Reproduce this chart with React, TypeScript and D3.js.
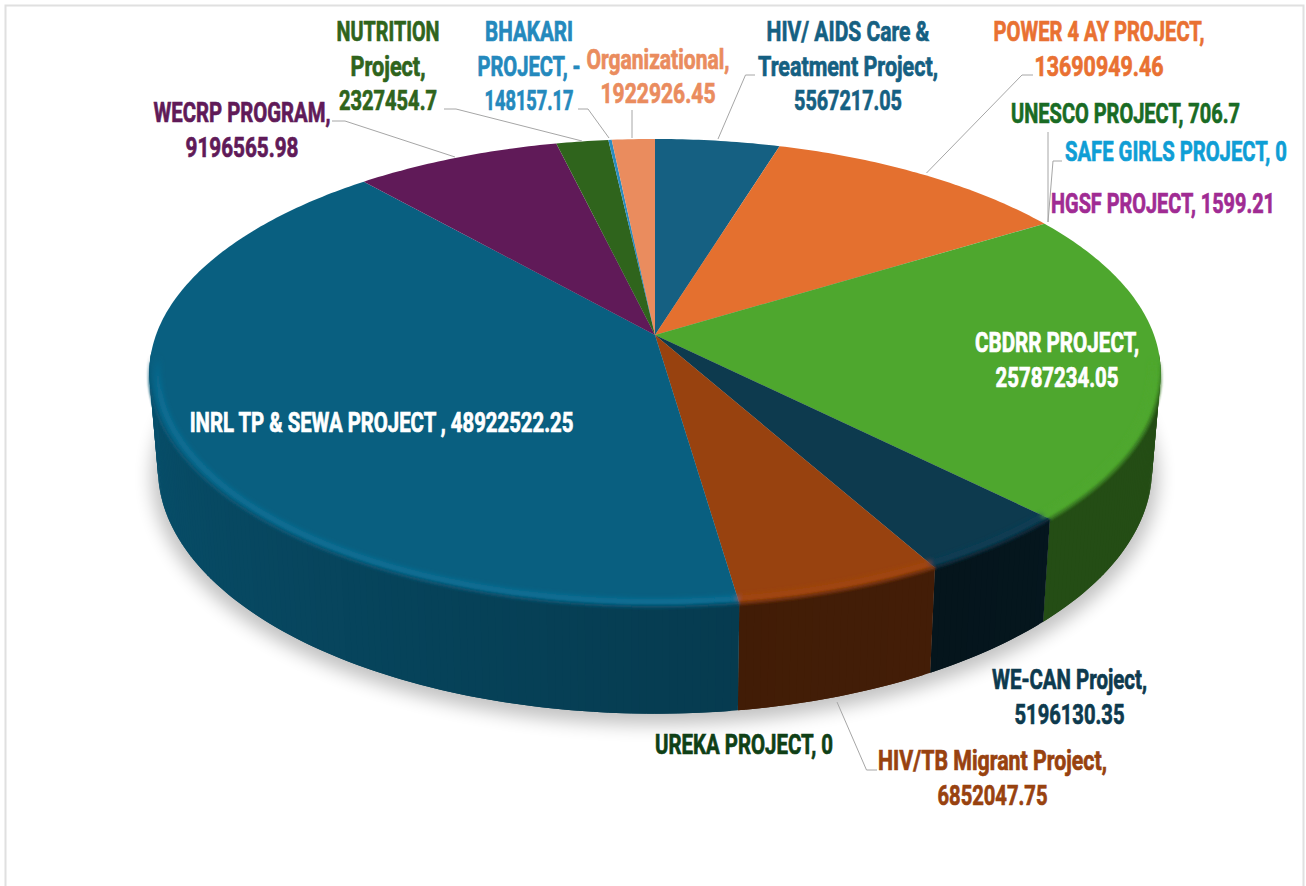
import React from "react";
import * as d3 from "d3";

const W = 1306, H = 886;

const categories = ["HIV/ AIDS Care & Treatment Project", "POWER 4 AY PROJECT", "UNESCO PROJECT", "SAFE GIRLS PROJECT", "HGSF PROJECT", "CBDRR PROJECT", "WE-CAN Project", "HIV/TB Migrant Project", "UREKA PROJECT", "INRL TP & SEWA PROJECT", "WECRP PROGRAM", "NUTRITION Project", "BHAKARI PROJECT", "Organizational"];
const values = [5567217.05, 13690949.46, 706.7, 0, 1599.21, 25787234.05, 5196130.35, 6852047.75, 0, 48922522.25, 9196565.98, 2327454.7, -148157.17, 1922926.45];
const colors = ["#156082", "#e4702f", "#196b24", "#0f9ed5", "#a02b93", "#4ea72e", "#0d3a4e", "#98420f", "#0f4016", "#095f80", "#601a58", "#2f641c", "#2b8cbf", "#ea8c5e"];
// wall shade relative to the top colour: [start of slice, end of slice]
const wallShades: Record<string, [number, number]> = {
  "CBDRR PROJECT": [0.46, 0.46],
  "WE-CAN Project": [0.38, 0.36],
  "HIV/TB Migrant Project": [0.44, 0.43],
  "INRL TP & SEWA PROJECT": [0.62, 0.95],
};
const rimBrighten: Record<string, number> = {
  "CBDRR PROJECT": 0.02,
  "WE-CAN Project": 0.2,
  "HIV/TB Migrant Project": 0.2,
  "INRL TP & SEWA PROJECT": 0.5,
};

const labels: { lines: string[]; color: string; cx: number; widths: number[]; top: number }[] = [
  { lines: ["NUTRITION", "Project,", "2327454.7"], color: "#2f641c", cx: 388, widths: [103, 75, 98], top: 41 },
  { lines: ["BHAKARI", "PROJECT, -", "148157.17"], color: "#2489bd", cx: 529, widths: [88, 103, 89], top: 41 },
  { lines: ["Organizational,", "1922926.45"], color: "#ea8c5e", cx: 658, widths: [143, 115], top: 68.5 },
  { lines: ["HIV/ AIDS Care &", "Treatment Project,", "5567217.05"], color: "#156082", cx: 848, widths: [163, 180, 108], top: 41 },
  { lines: ["POWER 4 AY PROJECT,", "13690949.46"], color: "#e97132", cx: 1099, widths: [211, 129], top: 41 },
  { lines: ["UNESCO PROJECT, 706.7"], color: "#196b24", cx: 1125.5, widths: [229], top: 123 },
  { lines: ["SAFE GIRLS PROJECT, 0"], color: "#0f9ed5", cx: 1176, widths: [222], top: 161 },
  { lines: ["HGSF PROJECT, 1599.21"], color: "#a02b93", cx: 1163, widths: [224], top: 213 },
  { lines: ["CBDRR PROJECT,", "25787234.05"], color: "#ffffff", cx: 1057, widths: [164, 123], top: 352 },
  { lines: ["INRL TP & SEWA PROJECT , 48922522.25"], color: "#ffffff", cx: 381.5, widths: [385], top: 432 },
  { lines: ["WE-CAN Project,", "5196130.35"], color: "#0d3a4e", cx: 1069.5, widths: [155, 110], top: 689 },
  { lines: ["UREKA PROJECT, 0"], color: "#0f4016", cx: 744, widths: [178], top: 754 },
  { lines: ["HIV/TB Migrant Project,", "6852047.75"], color: "#98420f", cx: 992.5, widths: [229, 110], top: 770 },
  { lines: ["WECRP PROGRAM,", "9196565.98"], color: "#601a58", cx: 242, widths: [177, 113], top: 122 },
];

const leaderPoints: [number, number][][] = [
  [[332, 121], [345, 121], [455, 157]],
  [[444, 109], [456, 109], [582, 141]],
  [[578, 109], [588, 109], [609, 138]],
  [[632, 110], [632, 138]],
  [[755, 75], [745.5, 75], [718, 139]],
  [[1033, 75], [1022, 75], [926.5, 173]],
  [[1048, 132], [1048, 222]],
  [[1062, 161], [1053, 161], [1048, 222]],
  [[877, 770], [866.5, 770], [837, 702]],
];

// Perspective projection of the unit disc for the top face and the base
const K = 0.162;
const project = (cy: number, A: number, B: number) => (theta: number, r = 1): [number, number] => {
  const u = Math.sin(theta) * r, v = -Math.cos(theta) * r, d = 1 - K * v;
  return [655 + (A * u) / d, cy + (B * v) / d];
};
const topFace = project(335, 499, 227.8);
const baseFace = project(429, 490.5, 238.6);

const pie = d3.pie<number>().sort(null).value((d) => Math.abs(d)).startAngle(0).endAngle(2 * Math.PI);
const arcs = pie(values);
const line = d3.line<[number, number]>();
const STEP = Math.PI / 240;

const arcAngles = (a0: number, a1: number) => {
  const n = Math.max(1, Math.ceil((a1 - a0) / STEP));
  return d3.range(n + 1).map((i) => a0 + ((a1 - a0) * i) / n);
};

const FONT = "700 27px Roboto";
const ctx = document.createElement("canvas").getContext("2d") as CanvasRenderingContext2D;
const stretch = (s: string, target: number) => {
  ctx.font = FONT;
  return target / ctx.measureText(s).width;
};

const clipTop = (line(arcAngles(0, 2 * Math.PI).map((t) => topFace(t))) || "") + "Z";
const baseOutline = (line(arcAngles(0, 2 * Math.PI).map((t) => baseFace(t))) || "") + "Z";
const frontFade = d3.scaleLinear().domain([0.1, 0.32]).range([0, 1]).clamp(true);

export default function App() {
  const walls: React.ReactNode[] = [];
  const tops: React.ReactNode[] = [];
  const rims: React.ReactNode[] = [];
  const edges: React.ReactNode[] = [];
  arcs.forEach((a, i) => {
    if (a.endAngle - a.startAngle <= 0) return;
    const c = colors[i];
    const pts = arcAngles(a.startAngle, a.endAngle).map((t) => topFace(t));
    tops.push(<path key={i} d={(line([[655, 335], ...pts]) || "") + "Z"} fill={c} />);
    const shade = wallShades[categories[i]];
    if (!shade) return;
    const sc = d3.scalePow().exponent(0.55).domain([a.startAngle, a.endAngle]).range(shade);
    const q = d3.rgb(c);
    const bright = d3.rgb(c).brighter(rimBrighten[categories[i]]).formatHex();
    const ts = arcAngles(a.startAngle, a.endAngle);
    ts.slice(0, -1).forEach((t, j) => {
      const t2 = ts[j + 1];
      const v = -Math.cos((t + t2) / 2);
      if (v < 0.08) return;
      const f = sc((t + t2) / 2);
      const fill = d3.rgb(q.r * f, q.g * f, q.b * f).formatHex();
      const t3 = j < ts.length - 2 ? ts[j + 2] : t2;
      walls.push(
        <path key={`${i}-${j}`} d={(line([topFace(t), topFace(t3), baseFace(t3), baseFace(t)]) || "") + "Z"} fill={fill} />
      );
      const mix = (1 + f) / 2;
      const op = frontFade(v);
      if (op > 0) {
        rims.push(<path key={`${i}-${j}`} d={line([topFace(t, 0.984), topFace(t3, 0.984)]) || ""} fill="none" stroke={bright} strokeOpacity={op} strokeWidth={5} />);
        edges.push(<path key={`${i}-${j}`} d={line([topFace(t), topFace(t3)]) || ""} fill="none" stroke={d3.rgb(q.r * mix, q.g * mix, q.b * mix).formatHex()} strokeOpacity={op} strokeWidth={3} />);
      }
    });
  });

  return (
    <svg width={W} height={H} viewBox={`0 0 ${W} ${H}`} style={{ position: "absolute", left: 0, top: 0, background: "#fff" }}>
      <defs>
        <filter id="shadow" x="-10%" y="-10%" width="120%" height="120%"><feGaussianBlur stdDeviation="9" /></filter>
        <filter id="soft" x="-5%" y="-5%" width="110%" height="110%"><feGaussianBlur stdDeviation="2.4" /></filter>
        <filter id="edge" x="-5%" y="-5%" width="110%" height="110%"><feGaussianBlur stdDeviation="1.2" /></filter>
        <clipPath id="topClip"><path d={clipTop} /></clipPath>
      </defs>
      <path d="M5.5,886V5.5H1303.5V886" fill="none" stroke="#e0e0e0" strokeWidth={2} />
      <path d={baseOutline} fill="#000" opacity={0.24} filter="url(#shadow)" transform="translate(655,478) scale(1.012) translate(-655,-470)" />
      <g>{walls}</g>
      <g>{tops}</g>
      <g clipPath="url(#topClip)"><g filter="url(#soft)">{rims}</g></g>
      <g filter="url(#edge)">{edges}</g>
      <g fill="none" stroke="#a6a6a6" strokeWidth={1}>
        {leaderPoints.map((p, i) => <path key={i} d={line(p) || ""} />)}
      </g>
      <g fontFamily="Roboto,sans-serif" fontWeight={700} fontSize={27} textAnchor="middle">
        {labels.map((l, i) => (
          <g key={i} fill={l.color} stroke={l.color} strokeWidth={0.7}>
            {l.lines.map((s, j) => (
              <text key={j} transform={`translate(${l.cx},${l.top + j * 34.7}) scale(${stretch(s, l.widths[j]).toFixed(4)},1)`}>{s}</text>
            ))}
          </g>
        ))}
      </g>
    </svg>
  );
}
